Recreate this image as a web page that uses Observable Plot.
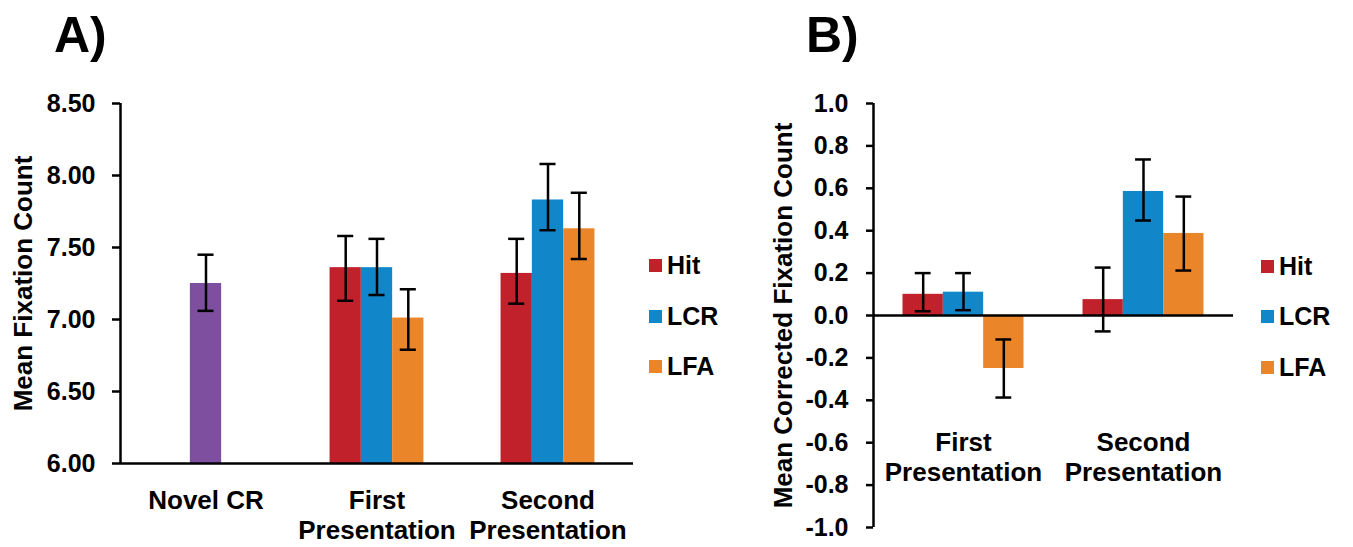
<!DOCTYPE html>
<html><head><meta charset="utf-8">
<script src="https://cdn.jsdelivr.net/npm/d3@7"></script>
<script src="https://cdn.jsdelivr.net/npm/@observablehq/plot@0.6"></script>
<style>
body{margin:0;background:#fff;font-family:"Liberation Sans",Arial,sans-serif;font-weight:bold;color:#000}
#wrap{position:relative;width:1353px;height:547px;overflow:hidden;background:#fff}
.panel{position:absolute;top:0}
.tag{position:absolute;font-size:50px;line-height:50px;font-weight:bold}
.leg{position:absolute;height:30px;display:flex;align-items:center;font-size:25px;line-height:30px;font-weight:bold;white-space:nowrap}
.sw{width:13px;height:13px;margin-right:5px}
</style></head><body><div id="wrap"></div>
<script>
// ---- data ----
const seriesNames = ["Hit", "LCR", "LFA"];
const seriesColors = ["#c1212a", "#1186c9", "#ea852a"];
const novelName = "Novel CR";
const novelColor = "#7f4f9f";

// Panel A: Mean Fixation Count
const groupsA = ["Novel CR", "First\nPresentation", "Second\nPresentation"];
const novelMean = [7.25];
const novelLo = [7.06];
const novelHi = [7.45];
const firstAMean = [7.36, 7.36, 7.01];
const firstALo = [7.13, 7.17, 6.79];
const firstAHi = [7.58, 7.56, 7.21];
const secondAMean = [7.32, 7.83, 7.63];
const secondALo = [7.11, 7.62, 7.42];
const secondAHi = [7.56, 8.08, 7.88];
const yTicksA = [6.00, 6.50, 7.00, 7.50, 8.00, 8.50];

// Panel B: Mean Corrected Fixation Count
const groupsB = ["First\nPresentation", "Second\nPresentation"];
const firstBMean = [0.10, 0.11, -0.25];
const firstBLo = [0.02, 0.025, -0.387];
const firstBHi = [0.20, 0.20, -0.113];
const secondBMean = [0.075, 0.585, 0.387];
const secondBLo = [-0.075, 0.448, 0.212];
const secondBHi = [0.226, 0.736, 0.561];
const yTicksB = [-1.0, -0.8, -0.6, -0.4, -0.2, 0.0, 0.2, 0.4, 0.6, 0.8, 1.0];

// ---- build tables ----
function rows(g, mean, lo, hi) {
  return seriesNames.map((s, i) => ({g, s: i, series: s, value: mean[i], lo: lo[i], hi: hi[i]}));
}
const rowsA = [
  {g: 0, s: 1, series: novelName, value: novelMean[0], lo: novelLo[0], hi: novelHi[0]},
  ...rows(1, firstAMean, firstALo, firstAHi),
  ...rows(2, secondAMean, secondALo, secondAHi)
];
const rowsB = [
  ...rows(0, firstBMean, firstBLo, firstBHi),
  ...rows(1, secondBMean, secondBLo, secondBHi)
];
const colorScale = {domain: [...seriesNames, novelName], range: [...seriesColors, novelColor]};
const FONT = '"Liberation Sans", Arial, sans-serif';

function panel({data, groups, yDomain, yTicks, fmt, width, marginLeft, marginRight, marginTop, marginBottom,
                barW, capW, tickSize, tickPadding, labelPadding, lineHeight, title, titleDx}) {
  const cx = d => d.g + (d.s - 1) * barW;
  const nG = groups.length;
  return Plot.plot({
    width, height: 547, marginLeft, marginRight, marginTop, marginBottom,
    style: {fontFamily: FONT, fontWeight: "bold", color: "#000", background: "transparent", overflow: "visible"},
    x: {domain: [-0.5, nG - 0.5], axis: null},
    y: {domain: yDomain, axis: null},
    color: colorScale,
    marks: [
      Plot.rect(data, {x1: d => cx(d) - barW / 2, x2: d => cx(d) + barW / 2,
        y1: () => Math.max(yDomain[0], 0), y2: "value", fill: "series"}),
      Plot.ruleX(data, {x: cx, y1: "lo", y2: "hi", stroke: "#000", strokeWidth: 2.5}),
      Plot.ruleY(data, {y: "hi", x1: d => cx(d) - capW, x2: d => cx(d) + capW, stroke: "#000", strokeWidth: 2.5}),
      Plot.ruleY(data, {y: "lo", x1: d => cx(d) - capW, x2: d => cx(d) + capW, stroke: "#000", strokeWidth: 2.5}),
      Plot.ruleY([Math.max(yDomain[0], 0)], {stroke: "#000", strokeWidth: 2.5}),
      Plot.ruleX([-0.5], {stroke: "#000", strokeWidth: 2.5}),
      Plot.axisY({ticks: yTicks, tickFormat: fmt, tickSize, tickPadding, fontSize: 25, fontWeight: "bold", strokeWidth: 2.5}),
      Plot.axisX({ticks: d3.range(nG), tickFormat: i => groups[i], tickSize: 0, tickPadding: labelPadding,
        fontSize: 26, fontWeight: "bold", lineHeight}),
      Plot.text([title], {frameAnchor: "left", textAnchor: "middle", lineAnchor: "middle", rotate: -90, dx: titleDx,
        fontSize: 26, fontWeight: "bold"})
    ]
  });
}

const wrap = document.getElementById("wrap");
function place(el, left, width) {
  const div = document.createElement("div");
  div.className = "panel";
  div.style.left = left + "px";
  div.style.width = width + "px";
  div.appendChild(el);
  wrap.appendChild(div);
}

place(panel({
  data: rowsA, groups: groupsA, yDomain: [6, 8.5], yTicks: yTicksA, fmt: d => d.toFixed(2),
  width: 640, marginLeft: 120, marginRight: 7, marginTop: 103, marginBottom: 84,
  barW: 0.183, capW: 0.047, tickSize: 8, tickPadding: 17, labelPadding: 24, lineHeight: 1.15,
  title: "Mean Fixation Count", titleDx: -97
}), 0, 640);

place(panel({
  data: rowsB, groups: groupsB, yDomain: [-1, 1], yTicks: yTicksB, fmt: d => d.toFixed(1),
  width: 560, marginLeft: 173, marginRight: 27, marginTop: 103, marginBottom: 20,
  barW: 0.224, capW: 0.044, tickSize: 7, tickPadding: 18, labelPadding: -98, lineHeight: 1.15,
  title: "Mean Corrected Fixation Count", titleDx: -90
}), 700, 560);

function tag(text, left) {
  const d = document.createElement("div");
  d.className = "tag"; d.textContent = text;
  d.style.left = left + "px"; d.style.top = "10px";
  wrap.appendChild(d);
}
tag("A)", 54);
tag("B)", 806);

function legend(left, tops) {
  seriesNames.forEach((s, i) => {
    const d = document.createElement("div");
    d.className = "leg";
    d.style.left = left + "px"; d.style.top = tops[i] + "px";
    const sw = document.createElement("div");
    sw.className = "sw"; sw.style.background = seriesColors[i];
    const t = document.createElement("span"); t.textContent = s;
    d.appendChild(sw); d.appendChild(t);
    wrap.appendChild(d);
  });
}
legend(649, [250, 301, 351]);
legend(1261, [251, 301, 352]);
</script>
</body></html>
